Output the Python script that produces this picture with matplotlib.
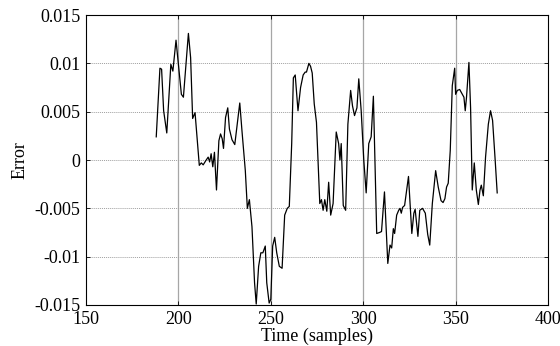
import matplotlib
matplotlib.use("Agg")
import matplotlib.pyplot as plt

# vertices
samples = [188, 190, 190.9, 192, 193.7, 195.9, 197, 198.7, 200.2, 201.6, 202.7, 205.4, 206.6,
           207.7, 209, 211.3, 212.4, 213.4, 214.7, 216.1, 216.9, 217.7, 218.6, 219.5, 220.6,
           221.9, 222.8, 223.7, 224.4, 225.5, 226.7, 227.6, 229, 230.5, 233.2, 234.4, 236.2,
           237.3, 238.4, 239.8, 241.2, 242.1, 243.4, 244.6, 245.7, 247, 247.8, 249.1, 250,
           251, 252.1, 253.2, 254.6, 256.1, 257.5, 258.9, 260, 261.3, 262.2, 263.2, 264.7,
           266.1, 267.5, 268.6, 269.3, 270.6, 271.5, 272.4, 273.5, 274.7, 276.5, 277.4, 278.3,
           279.2, 280.3, 281.3, 282.4, 283.7, 285.4, 286.7, 287.4, 288.1, 289.2, 290.5, 291.7,
           293.2, 294.2, 295.3, 296.6, 297.6, 298.9, 300.3, 301.6, 303, 304.3, 305.5, 307.3,
           308.8, 309.9, 311.5, 313.3, 314.5, 315.4, 316.3, 317, 318.1, 319.2, 319.9, 320.6,
           321.3, 322.4, 323.5, 324.5, 326.3, 327.4, 328.1, 329.6, 330.6, 332.1, 333.6, 334.9,
           336, 337.4, 339.2, 340.6, 342.1, 343.2, 344.2, 345.1, 346, 347.1, 348.2, 349.5,
           350, 350.9, 352.2, 353.6, 354.5, 355.2, 355.9, 357.2, 358.1, 359, 360.1, 361.2,
           362.3, 363.2, 363.9, 365, 366.2, 367.7, 368.9, 370, 371.3, 372.5]
error = [0.0024, 0.0095, 0.0094, 0.0051, 0.0028, 0.0099, 0.0092, 0.0124, 0.0095, 0.0068,
         0.0065, 0.0131, 0.0106, 0.0043, 0.0049, -0.00055, -0.0003, -0.0005, -0.0001, 0.0003,
         -0.0002, 0.00065, -0.0007, 0.0008, -0.0031, 0.002, 0.0027, 0.0022, 0.0012, 0.0044,
         0.0054, 0.0032, 0.0021, 0.0016, 0.0059, 0.003, -0.0011, -0.005, -0.0041, -0.0069,
         -0.0127, -0.0149, -0.011, -0.0096, -0.0096, -0.0089, -0.0127, -0.0148, -0.0144,
         -0.0089, -0.008, -0.0096, -0.011, -0.0112, -0.0057, -0.005, -0.0048, 0.0017, 0.0085,
         0.0088, 0.0051, 0.0075, 0.0088, 0.0091, 0.0091, 0.01, 0.0097, 0.009, 0.0058, 0.0039,
         -0.0045, -0.0041, -0.0052, -0.0041, -0.0053, -0.0023, -0.0057, -0.0045, 0.0029,
         0.0017, 0.0, 0.0017, -0.0047, -0.0052, 0.0037, 0.0072, 0.0056, 0.0046, 0.0054,
         0.0084, 0.0051, 0.0, -0.0034, 0.0017, 0.0024, 0.0066, -0.0076, -0.0075, -0.0074,
         -0.0033, -0.0107, -0.0088, -0.0091, -0.0071, -0.0076, -0.0057, -0.0052, -0.005,
         -0.0055, -0.0049, -0.0047, -0.0031, -0.0017, -0.0076, -0.0055, -0.0051, -0.0079,
         -0.0052, -0.005, -0.0055, -0.0077, -0.0088, -0.0045, -0.0011, -0.0028, -0.0042,
         -0.0044, -0.004, -0.0028, -0.0024, 0.001, 0.0077, 0.0095, 0.0068, 0.0072, 0.0073,
         0.0068, 0.0065, 0.0051, 0.0065, 0.0101, 0.0054, -0.0031, -0.0003, -0.0031, -0.0046,
         -0.0031, -0.0026, -0.0037, 0.0003, 0.0037, 0.0051, 0.0041, 0.0003, -0.0034]

x_ticks = [150, 200, 250, 300, 350, 400]
y_ticks = [-0.015, -0.01, -0.005, 0, 0.005, 0.01, 0.015]
y_labels = ["-0.015", "-0.01", "-0.005", "0", "0.005", "0.01", "0.015"]

plt.rcParams["font.family"] = ["Liberation Serif", "DejaVu Serif"]
plt.rcParams["font.size"] = 13

fig = plt.figure(figsize=(5.6, 3.46), dpi=100)
ax = fig.add_axes([0.1536, 0.1185, 0.825, 0.838])

for xv in x_ticks[1:-1]:
    ax.axvline(xv, color="#a6a6a6", lw=0.9, zorder=0)
for yv in y_ticks[1:-1]:
    ax.axhline(yv, color="#a0a0a0", lw=0.7, ls=(0, (1, 1)), zorder=0)

ax.plot(samples, error, color="black", lw=0.9)

ax.set_xlim(150, 400)
ax.set_ylim(-0.015, 0.015)
ax.set_xticks(x_ticks)
ax.set_yticks(y_ticks)
ax.set_yticklabels(y_labels)
ax.tick_params(direction="in", length=3, width=0.6, top=True, right=True)
ax.tick_params(axis="x", pad=4)
ax.tick_params(axis="y", pad=4)
for sp in ax.spines.values():
    sp.set_linewidth(0.8)
ax.set_xlabel("Time (samples)", labelpad=0)
ax.set_ylabel("Error", labelpad=4)

fig.savefig("out.png", dpi=100)
